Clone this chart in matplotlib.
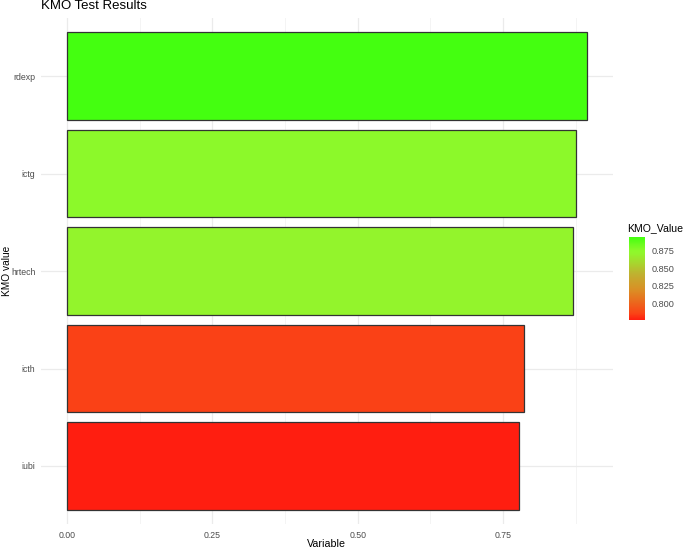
import numpy as np
import matplotlib
matplotlib.use("Agg")
import matplotlib.pyplot as plt
from matplotlib.colors import LinearSegmentedColormap, Normalize
from matplotlib.cm import ScalarMappable

variables = ["rdexp", "ictg", "hrtech", "icth", "iubi"]
kmo_values = [0.894, 0.875, 0.870, 0.786, 0.777]
x_ticks = [0.00, 0.25, 0.50, 0.75]
x_tick_labels = ["0.00", "0.25", "0.50", "0.75"]
legend_ticks = [0.800, 0.825, 0.850, 0.875]

plt.rcParams['font.family'] = ['Liberation Sans', 'DejaVu Sans']

cmap = LinearSegmentedColormap.from_list(
    "kmo",
    [(0.0, "#FF1E10"), (0.08, "#FA4416"), (0.35, "#DC8C24"), (0.55, "#C0B030"),
     (0.8, "#92F52C"), (0.84, "#8CF92A"), (1.0, "#44FF10")],
    N=256,
)
norm = Normalize(vmin=min(kmo_values), vmax=max(kmo_values))

fig = plt.figure(figsize=(6.85, 5.48), dpi=100)
ax = fig.add_axes([0.0599, 0.0429, 0.8346, 0.9251])

ypos = np.arange(len(variables))[::-1]
ax.barh(ypos, kmo_values, height=0.9, color=[cmap(norm(v)) for v in kmo_values],
        edgecolor="#333333", linewidth=0.9, zorder=3)

xmax = max(kmo_values)
ax.set_xlim(-0.05 * xmax, xmax * 1.05)
ax.set_ylim(-0.6, len(variables) - 0.4)
ax.set_xticks(x_ticks)
ax.set_xticklabels(x_tick_labels)
ax.set_xticks([0.125, 0.375, 0.625, 0.875], minor=True)
ax.set_yticks(ypos)
ax.set_yticklabels(variables)
ax.grid(True, which="major", color="#EBEBEB", linewidth=0.9, zorder=0)
ax.grid(True, which="minor", axis="x", color="#F2F2F2", linewidth=0.6, zorder=0)
for s in ax.spines.values():
    s.set_visible(False)
ax.tick_params(axis="both", which="both", length=0, labelsize=6.3, labelcolor="#4D4D4D")
ax.tick_params(axis="x", pad=5)
ax.tick_params(axis="y", pad=4)
ax.set_xlabel("Variable", fontsize=7.7)
ax.xaxis.set_label_coords((326 - 41) / 571.7, -(544 - 524.5) / 507.0)
ax.set_ylabel("KMO value", fontsize=7.3)
ax.yaxis.set_label_coords(-(41 - 6.5) / 571.7, 0.5)
ax.yaxis.label.set_va("center")
ax.xaxis.label.set_va("center")
fig.text(41 / 685, 1 - 6 / 548, "KMO Test Results", fontsize=9.5, ha="left", va="center")

cax = fig.add_axes([0.918, 0.416, 0.0234, 0.1515])
cb = fig.colorbar(ScalarMappable(norm=norm, cmap=cmap), cax=cax, ticks=legend_ticks)
cb.outline.set_visible(False)
cb.ax.set_yticklabels([f"{t:.3f}" for t in legend_ticks])
cb.ax.tick_params(length=3, color="white", width=0.6, labelsize=6.6, labelcolor="#4D4D4D", pad=2)
fig.text(0.916, 1 - 228 / 548, "KMO_Value", fontsize=7.6, ha="left", va="center")

fig.savefig("out.png", dpi=100)
